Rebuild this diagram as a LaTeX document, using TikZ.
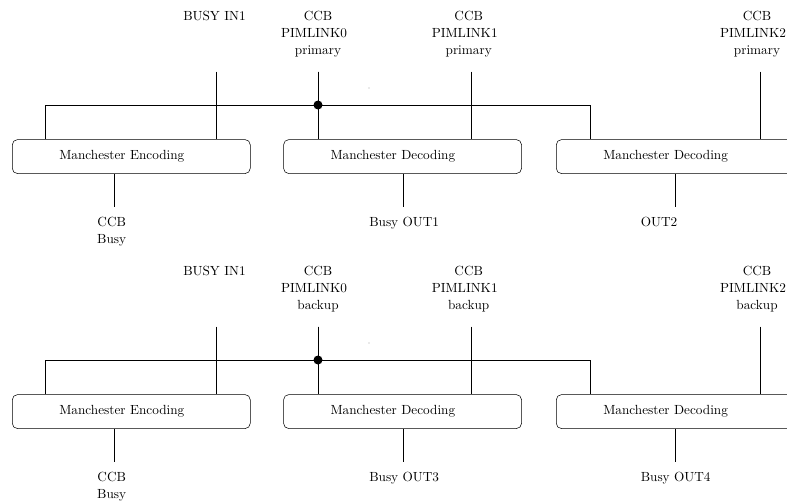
\documentclass[tikz,border=0pt]{standalone}
\tikzset{
  lbl/.style={font=\fontsize{10}{12.8}\selectfont, inner sep=0pt, align=center},
  codec/.style={draw, rounded corners=4pt, font=\fontsize{10}{12.8}\selectfont,
    inner xsep=35.5pt, inner ysep=0pt, text width=108.7pt, align=left,
    minimum height=25.7pt, anchor=north west},
  wire/.style={line width=0.4pt},
}
\newcommand{\trail}{\rule{6pt}{0pt}}
\begin{document}
\begin{tikzpicture}[x=0.755pt, y=-0.755pt]
\useasboundingbox (0,0) rectangle (787,504);
\clip (0,0) rectangle (787,504);
% two identical link groups: primary (top) and backup (bottom)
\foreach \s/\dy/\kind/\outA/\outB in {a/0/primary/Busy OUT1/OUT2, b/255/backup/Busy OUT3/Busy OUT4}{
  \begin{scope}[shift={(0,\dy)}]
    % coding blocks
    \node[codec] (enc\s)  at (12,139.3)  {Manchester Encoding};
    \node[codec] (decA\s) at (283.3,139.3) {Manchester Decoding};
    \node[codec] (decB\s) at (556,139.3) {Manchester Decoding};
    % input labels
    \node[lbl, anchor=north] (busyin\s) at (214.5,11) {BUSY IN1};
    \node[lbl, anchor=north] (pimA\s) at (318,11) {CCB\\PIMLINK0\trail\\\kind};
    \node[lbl, anchor=north] (pimB\s) at (468.7,11) {CCB\\PIMLINK1\trail\\\kind};
    \node[lbl, anchor=north] (pimC\s) at (757,11) {CCB\\PIMLINK2\trail\\\kind};
    % output labels
    \node[lbl, anchor=north] (ccbbusy\s) at (111.7,216.5) {CCB\\Busy};
    \node[lbl, anchor=north west] (outA\s) at (369,216.5) {\outA};
    \node[lbl, anchor=north west] (outB\s) at (640.5,216.5) {\outB};
    % wire end points
    \coordinate (inBusy\s) at (216,71.7);
    \coordinate (inA\s) at (318,71.7);
    \coordinate (inB\s) at (471,71.7);
    \coordinate (inC\s) at (760.5,71.7);
    \coordinate (busL\s) at (45.7,105);
    \coordinate (busR\s) at (590.7,105);
    \coordinate (j\s) at (318,105);
    \coordinate (oE\s) at (114,206.7);
    \coordinate (oA\s) at (403.3,206.7);
    \coordinate (oB\s) at (675,206.7);
    % inputs
    \draw[wire] (inBusy\s) -- (inBusy\s |- enc\s.north);
    \draw[wire] (inA\s) -- (inA\s |- decA\s.north);
    \draw[wire] (inA\s) -- (j\s);
    \draw[wire] (inB\s) -- (inB\s |- decA\s.north);
    \draw[wire] (inC\s) -- (inC\s |- decB\s.north);
    % shared bus
    \draw[wire] (busL\s |- enc\s.north) -- (busL\s) -- (busR\s) -- (busR\s |- decB\s.north);
    \fill (j\s) circle (4.5);
    \fill[black!35] (369,88) circle (0.7);
    % outputs
    \draw[wire] (oE\s |- enc\s.south) -- (oE\s);
    \draw[wire] (oA\s |- decA\s.south) -- (oA\s);
    \draw[wire] (oB\s |- decB\s.south) -- (oB\s);
  \end{scope}
}
\end{tikzpicture}
\end{document}
